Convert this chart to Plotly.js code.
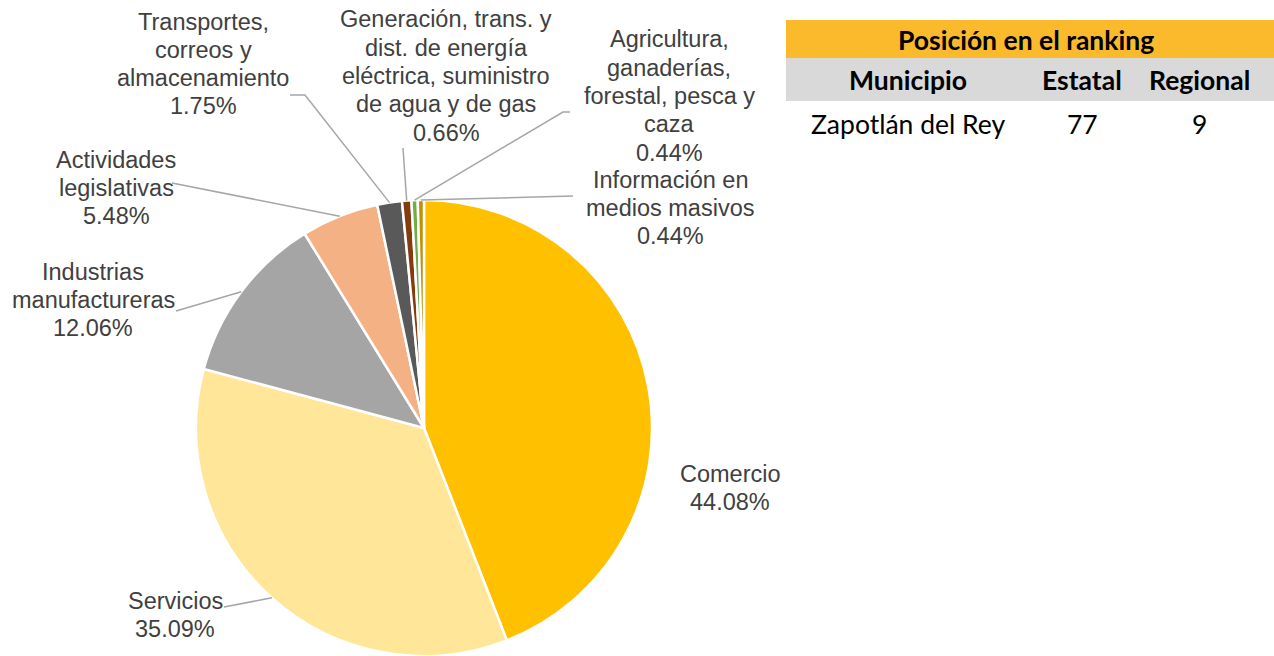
<!DOCTYPE html>
<html><head><meta charset="utf-8">
<script src="https://cdn.plot.ly/plotly-3.0.1.min.js"></script>
<style>html,body{margin:0;padding:0;background:#fff;}#chart{width:1274px;height:656px;}</style>
</head><body><div id="chart"></div>
<script>
// ---- data ----
const sectors = ["Comercio","Servicios","Industrias manufactureras","Actividades legislativas","Transportes, correos y almacenamiento","Generación, trans. y dist. de energía eléctrica, suministro de agua y de gas","Agricultura, ganaderías, forestal, pesca y caza","Información en medios masivos"];
const labelLines = [["Comercio"],["Servicios"],["Industrias","manufactureras"],["Actividades","legislativas"],["Transportes,","correos y","almacenamiento"],["Generación, trans. y","dist. de energía","eléctrica, suministro","de agua y de gas"],["Agricultura,","ganaderías,","forestal, pesca y","caza"],["Información en","medios masivos"]];
const shares = [44.08, 35.09, 12.06, 5.48, 1.75, 0.66, 0.44, 0.44];
const colors = ["#FFC000","#FFE699","#A5A5A5","#F4B183","#595959","#843C0C","#70AD47","#BF9000"];
const tableHeader = "Posición en el ranking";
const tableCols = ["Municipio","Estatal","Regional"];
const tableRow = ["Zapotlán del Rey","77","9"];

// ---- layout constants (px) ----
const W=1274,H=656, CX=424, CY=428, R=228, LS=28.3;
const px=x=>x/W, py=y=>1-y/H;
const labelPos = [[730,488],[175,615],[93,300],[116,188],[203,64],[446,76],[669,96],[670,208]];
const leaderPts = [null,[[224,607]],[[176,311]],[[172,183]],[[290,95],[305,95]],[[403,148]],[[570,112],[563,112]],[[573,196]]];

const shapes=[], annotations=[];
let cum=0;
const total=shares.reduce((a,b)=>a+b,0);
const lf={family:'Liberation Sans, Arial, sans-serif',size:23.5,color:'#404040'};
shares.forEach((v,i)=>{
  const mid=(cum+v/2)/total*2*Math.PI; cum+=v;
  const ex=CX+R*Math.sin(mid), ey=CY-R*Math.cos(mid);
  if(leaderPts[i]){
    const pts=leaderPts[i].concat([[ex,ey]]);
    let d='M '+pts.map(p=>px(p[0])+' '+py(p[1])).join(' L ');
    shapes.push({type:'path',xref:'paper',yref:'paper',path:d,line:{color:'#A6A6A6',width:1.5}});
  }
  const lines=labelLines[i].concat([v.toFixed(2)+'%']);
  const n=lines.length;
  lines.forEach((t,k)=>{
    annotations.push({xref:'paper',yref:'paper',x:px(labelPos[i][0]),y:py(labelPos[i][1]+(k-(n-1)/2)*LS),xanchor:'center',yanchor:'middle',showarrow:false,text:t,font:lf});
  });
});

// table
const TX0=786, TX1=1274;
shapes.push({type:'rect',xref:'paper',yref:'paper',x0:px(TX0),x1:px(TX1),y0:py(58),y1:py(20),fillcolor:'#FBBA2C',line:{width:0},layer:'below'});
shapes.push({type:'rect',xref:'paper',yref:'paper',x0:px(TX0),x1:px(TX1),y0:py(101),y1:py(58),fillcolor:'#D9D9D9',line:{width:0},layer:'below'});
const tf='Lato, Calibri, sans-serif';
annotations.push({xref:'paper',yref:'paper',x:px(1026),y:py(40),xanchor:'center',yanchor:'middle',showarrow:false,text:'<b>'+tableHeader+'</b>',font:{family:tf,size:26.5,color:'#000'}});
const colX=[908,1082,1199];
tableCols.forEach((t,i)=>annotations.push({xref:'paper',yref:'paper',x:px(colX[i]),y:py(80),xanchor:'center',yanchor:'middle',showarrow:false,text:'<b>'+t+'</b>',font:{family:tf,size:26.5,color:'#000'}}));
tableRow.forEach((t,i)=>annotations.push({xref:'paper',yref:'paper',x:px(colX[i]),y:py(124),xanchor:'center',yanchor:'middle',showarrow:false,text:t,font:{family:tf,size:26.5,color:'#000'}}));

const trace={type:'pie',labels:sectors,values:shares,sort:false,direction:'clockwise',rotation:0,
  marker:{colors:colors,line:{color:'#FFFFFF',width:2.5}},textinfo:'none',hoverinfo:'label+percent',
  domain:{x:[px(CX-R),px(CX+R)],y:[py(CY+R),py(CY-R)]},showlegend:false};
Plotly.newPlot('chart',[trace],{width:W,height:H,margin:{l:0,r:0,t:0,b:0},paper_bgcolor:'#fff',shapes:shapes,annotations:annotations,showlegend:false},{displayModeBar:false});
</script></body></html>
